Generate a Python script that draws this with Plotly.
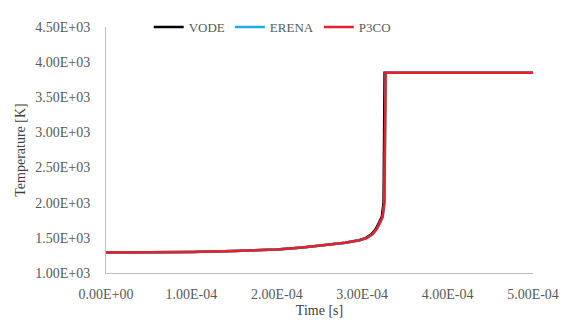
import plotly.graph_objects as go

# Time [s] and temperature [K] for each solver
t_p3co = [0.0, 0.5e-4, 1.0e-4, 1.5e-4, 2.0e-4, 2.3e-4, 2.6e-4, 2.8e-4, 2.97e-4,
          3.05e-4, 3.12e-4, 3.17e-4, 3.21e-4, 3.24e-4, 3.26e-4, 3.268e-4, 3.275e-4, 5.0e-4]
T_p3co = [1290, 1293, 1300, 1312, 1335, 1362, 1398, 1430, 1465,
          1495, 1550, 1625, 1720, 1800, 2000, 3000, 3850, 3850]

t_erena = t_p3co
T_erena = T_p3co

t_vode = [0.0, 0.5e-4, 1.0e-4, 1.5e-4, 2.0e-4, 2.3e-4, 2.6e-4, 2.8e-4, 2.96e-4,
          3.04e-4, 3.11e-4, 3.16e-4, 3.20e-4, 3.23e-4, 3.25e-4, 3.256e-4, 3.262e-4, 5.0e-4]
T_vode = [1290, 1293, 1300, 1312, 1335, 1362, 1398, 1430, 1466,
          1497, 1553, 1628, 1724, 1805, 2000, 3000, 3850, 3850]

y_ticks = [1000, 1500, 2000, 2500, 3000, 3500, 4000, 4500]
y_labels = ["1.00E+03", "1.50E+03", "2.00E+03", "2.50E+03",
            "3.00E+03", "3.50E+03", "4.00E+03", "4.50E+03"]
x_ticks = [0.0, 1e-4, 2e-4, 3e-4, 4e-4, 5e-4]
x_labels = ["0.00E+00", "1.00E-04", "2.00E-04", "3.00E-04", "4.00E-04", "5.00E-04"]

fig = go.Figure()
fig.add_trace(go.Scatter(x=t_vode, y=T_vode, mode="lines", name="VODE",
                         line=dict(color="#000000", width=2.5)))
fig.add_trace(go.Scatter(x=t_erena, y=T_erena, mode="lines", name="ERENA",
                         line=dict(color="#1CADE4", width=2.5)))
fig.add_trace(go.Scatter(x=t_p3co, y=T_p3co, mode="lines", name="P3CO",
                         line=dict(color="#E8202A", width=2.5)))

font_family = "Liberation Serif"
fig.update_layout(
    width=566, height=323,
    margin=dict(l=106, r=33, t=17, b=50),
    paper_bgcolor="white", plot_bgcolor="white",
    font=dict(family=font_family, size=14, color="#595959"),
    showlegend=True,
    legend=dict(orientation="h", x=0.1, y=1.0, xanchor="left", yanchor="middle",
                font=dict(family=font_family, size=13, color="#595959"),
                bgcolor="rgba(0,0,0,0)", itemwidth=30, tracegroupgap=0),
    xaxis=dict(range=[0, 5e-4], tickvals=x_ticks, ticktext=x_labels,
               showgrid=False, zeroline=False, showline=True, automargin=False,
               linecolor="#BFBFBF", linewidth=1, ticks="", ticklabelstandoff=8,
               title=dict(text="Time [s]", standoff=4,
                          font=dict(family=font_family, size=14, color="#404040"))),
    yaxis=dict(range=[1000, 4500], tickvals=y_ticks, ticktext=y_labels,
               showgrid=False, zeroline=False, showline=True, automargin=False,
               linecolor="#BFBFBF", linewidth=1, ticks="", ticklabelstandoff=12,
               title=dict(text="Temperature [K]", standoff=6,
                          font=dict(family=font_family, size=14, color="#404040"))),
)

fig.write_html("out.html")
